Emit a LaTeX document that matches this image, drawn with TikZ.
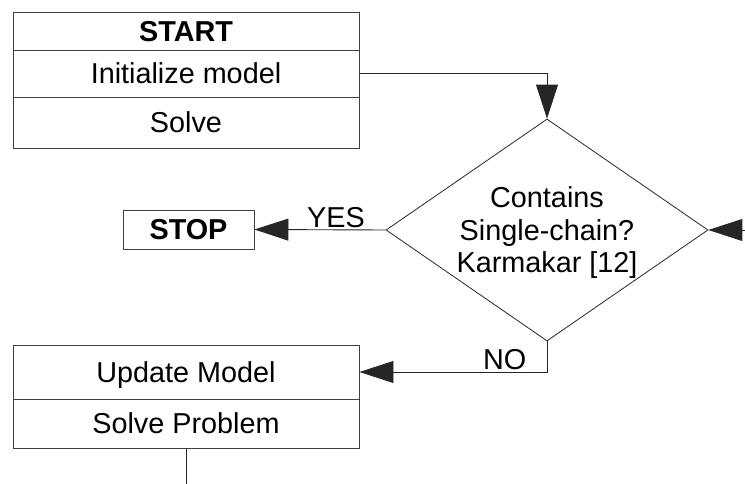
\documentclass[tikz,border=0pt]{standalone}
\usepackage{fontspec}
\setmainfont{Liberation Sans}
\usetikzlibrary{arrows.meta,shapes.geometric}
\begin{document}
\begin{tikzpicture}[x=1pt,y=-1pt,
  every node/.style={font=\fontsize{28.8}{32.5}\selectfont},
  cell/.style={draw=black!75, line width=0.9pt, minimum width=346pt, inner sep=0pt,
    text height=20.6pt, text depth=0pt},
  decbox/.style={draw=black!85, line width=0.8pt, shape=diamond, inner sep=0pt,
    minimum width=322pt, minimum height=222pt},
  lbl/.style={anchor=base west, inner sep=0pt},
  conn/.style={draw=black!85, line width=0.9pt},
  arr/.style={conn, -{Triangle[length=34pt,width=22pt]}}]
\useasboundingbox (0,0) rectangle (745,484);
% top block
\node[cell, minimum height=38pt] (start) at (186,31) {\textbf{START}};
\node[cell, minimum height=47pt] (init) at (186,73.5) {Initialize model};
\node[cell, minimum height=51pt] (solve) at (186,122.5) {Solve};
% decision
\node[decbox] (dec) at (547,230) {};
\node[align=center, inner sep=0pt] (dectext) at (547,233)
  {Contains\\Single-chain?\\Karmakar [12]};
% stop
\node[cell, minimum width=131pt, minimum height=39pt] (stop) at (188.5,229.5) {\textbf{STOP}};
% bottom block
\node[cell, minimum height=54pt] (update) at (186,372) {Update Model};
\node[cell, minimum height=49pt] (solveprob) at (186,423.5) {Solve Problem};
% free ends
\coordinate (rin) at (745,230);
\coordinate (bot) at (186,484);
% connectors
\draw[arr] (init.east) -| (dec.north);
\draw[arr] (rin) -- (dec.east);
\draw[arr] (dec.west) -- (stop.east);
\draw[arr] (dec.south) |- (update.east);
\draw[conn] (solveprob.south) -- (bot);
% labels
\node[lbl] (yes) at (307,227) {YES};
\node[lbl] (no) at (483,369) {NO};
\end{tikzpicture}
\end{document}
